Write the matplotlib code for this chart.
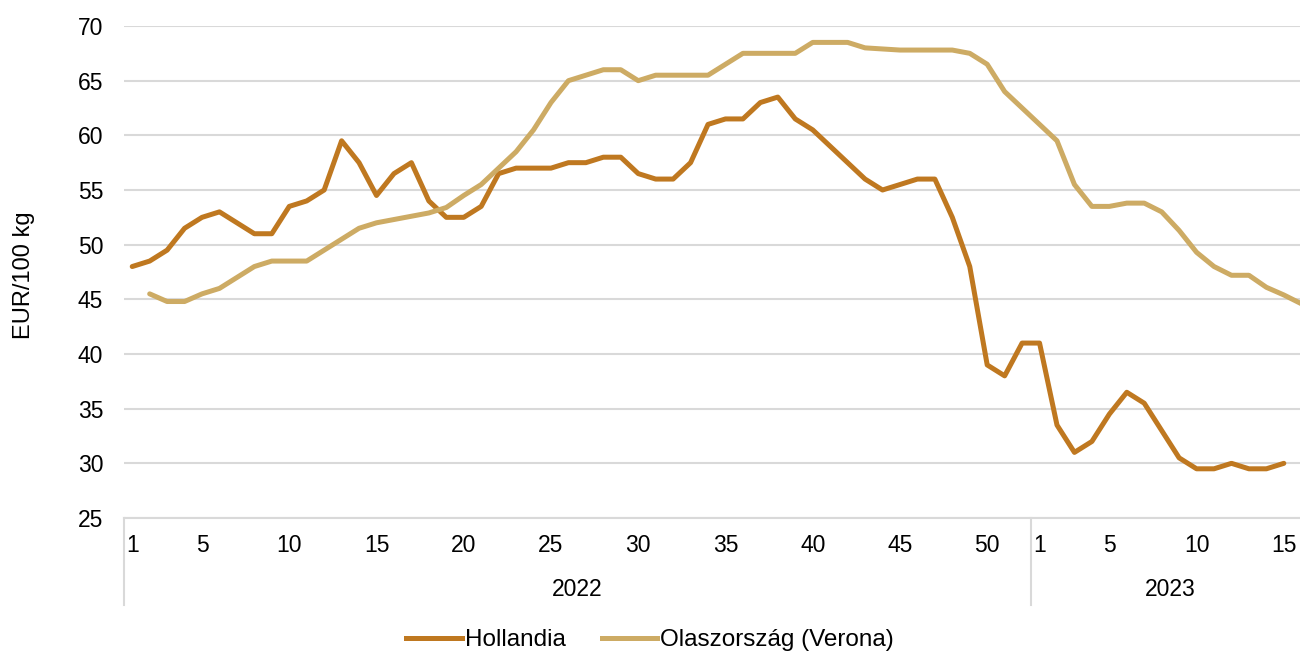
import matplotlib
matplotlib.use("Agg")
import matplotlib.pyplot as plt
from matplotlib.lines import Line2D
import matplotlib.transforms as mtransforms

plt.rcParams['font.family'] = ['Liberation Sans', 'DejaVu Sans']

years = ["2022", "2023"]
weeks_per_year = [52, 16]
week_tick_labels = [1, 5, 10, 15, 20, 25, 30, 35, 40, 45, 50]
week_tick_labels_2023 = [1, 5, 10, 15]

hollandia = [48, 48.5, 49.5, 51.5, 52.5, 53, 52, 51, 51, 53.5, 54, 55, 59.5, 57.5, 54.5, 56.5, 57.5, 54,
             52.5, 52.5, 53.5, 56.5, 57, 57, 57, 57.5, 57.5, 58, 58, 56.5, 56, 56, 57.5, 61, 61.5, 61.5,
             63, 63.5, 61.5, 60.5, 59, 57.5, 56, 55, 55.5, 56, 56, 52.5, 48, 39, 38, 41,
             41, 33.5, 31, 32, 34.5, 36.5, 35.5, 33, 30.5, 29.5, 29.5, 30, 29.5, 29.5, 30]
olasz = [None, 45.5, 44.8, 44.8, 45.5, 46, 47, 48, 48.5, 48.5, 48.5, 49.5, 50.5, 51.5, 52, 52.3, 52.6, 52.9,
         53.4, 54.5, 55.5, 57, 58.5, 60.5, 63, 65, 65.5, 66, 66, 65, 65.5, 65.5, 65.5, 65.5, 66.5, 67.5,
         67.5, 67.5, 67.5, 68.5, 68.5, 68.5, 68, 67.9, 67.8, 67.8, 67.8, 67.8, 67.5, 66.5, 64, 62.5,
         61, 59.5, 55.5, 53.5, 53.5, 53.8, 53.8, 53, 51.3, 49.3, 48, 47.2, 47.2, 46.1, 45.4, 44.6]
series_names = ["Hollandia", "Olaszország (Verona)"]
colors = ["#BF7820", "#CDAB64"]

fig = plt.figure(figsize=(13, 6.51), dpi=100)
W, H = 1300, 651
left_px, right_px, top_px, bot_px = 123.5, 1310, 26, 518
ax = fig.add_axes([left_px / W, 1 - bot_px / H, (right_px - left_px) / W, (bot_px - top_px) / H])

n = sum(weeks_per_year)
xs_h = [i for i, v in enumerate(hollandia) if v is not None]
ys_h = [v for v in hollandia if v is not None]
xs_o = [i for i, v in enumerate(olasz) if v is not None]
ys_o = [v for v in olasz if v is not None]
ax.plot(xs_h, ys_h, color=colors[0], lw=3.6, solid_joinstyle='round', solid_capstyle='round', zorder=3)
ax.plot(xs_o, ys_o, color=colors[1], lw=3.6, solid_joinstyle='round', solid_capstyle='round', zorder=3)

ax.set_xlim(-0.5, n - 0.5)
ax.set_ylim(25, 70)
ax.set_yticks(range(25, 71, 5))
ax.yaxis.grid(True, color="#D9D9D9", lw=1.5)
ax.set_axisbelow(True)
for s in ["top", "right", "left"]:
    ax.spines[s].set_visible(False)
ax.spines["bottom"].set_color("#D9D9D9")
ax.spines["bottom"].set_linewidth(1.5)
ax.tick_params(axis='y', length=0, labelsize=16.5, pad=14.5, labelcolor="#000000")
ax.set_xticks([])
fig.text(24 / W, 1 - 275 / H, "EUR/100 kg", rotation=90, ha="center", va="center", fontsize=17)

trans = mtransforms.blended_transform_factory(ax.transData, ax.transAxes)
ax_h = bot_px - top_px
wk_y = (bot_px - 546) / ax_h
yr_y = (bot_px - 590) / ax_h
sep_y = (bot_px - 605) / ax_h

start = 0
for yr, nw, labs in zip(years, weeks_per_year, [week_tick_labels, week_tick_labels_2023]):
    for w in labs:
        ax.text(start + w - 1, wk_y, str(w), transform=trans, ha="center", va="center", fontsize=16.5)
    ax.text(start + (nw - 1) / 2, yr_y, yr, transform=trans, ha="center", va="center", fontsize=16.5)
    ax.add_line(Line2D([start - 0.5, start - 0.5], [0, sep_y], transform=trans, color="#D9D9D9",
                       lw=1.5, clip_on=False))
    start += nw

handles = [Line2D([], [], color=c, lw=3.6) for c in colors]
fig.legend(handles, series_names, loc="center", bbox_to_anchor=(0.5, (H - 640) / H), ncol=2,
           frameon=False, fontsize=17.5, handlelength=2.3, handletextpad=0.12, columnspacing=1.48,
           borderpad=0, borderaxespad=0)

fig.savefig("out.png", dpi=100)
